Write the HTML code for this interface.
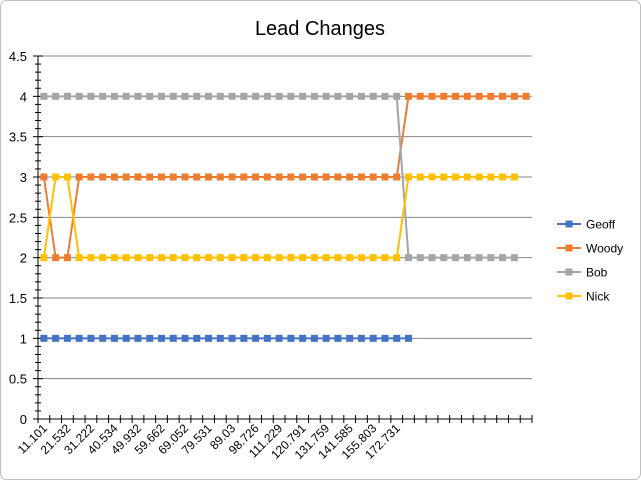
<!DOCTYPE html>
<html><head><meta charset="utf-8">
<style>
html,body{margin:0;padding:0;background:#fff;}
svg{display:block;font-family:"Liberation Sans",Calibri,sans-serif;}
</style></head>
<body>
<svg id="chart" width="641" height="480" xmlns="http://www.w3.org/2000/svg">
<rect x="0.5" y="0.5" width="640" height="479" rx="6" fill="#fff" stroke="#bfbfbf"/>
<text x="320" y="35" text-anchor="middle" font-size="20" fill="#000">Lead Changes</text>
<g id="grid"></g><g id="axes"></g><g id="series"></g><g id="legend"></g>
</svg>
<script>
const labels = ["11.101","21.532","31.222","40.534","49.932","59.662","69.052","79.531","89.03","98.726","111.229","120.791","131.759","141.585","155.803","172.731"];
const seriesNames = ["Geoff","Woody","Bob","Nick"];
const seriesColors = ["#4472c4","#ed7d31","#a5a5a5","#ffc000"];
const geoff = [1,1,1,1,1,1,1,1,1,1,1,1,1,1,1,1,1,1,1,1,1,1,1,1,1,1,1,1,1,1,1,1];
const woody = [3,2,2,3,3,3,3,3,3,3,3,3,3,3,3,3,3,3,3,3,3,3,3,3,3,3,3,3,3,3,3,4,4,4,4,4,4,4,4,4,4,4];
const bob = [4,4,4,4,4,4,4,4,4,4,4,4,4,4,4,4,4,4,4,4,4,4,4,4,4,4,4,4,4,4,4,2,2,2,2,2,2,2,2,2,2];
const nick = [2,3,3,2,2,2,2,2,2,2,2,2,2,2,2,2,2,2,2,2,2,2,2,2,2,2,2,2,2,2,2,3,3,3,3,3,3,3,3,3,3];
const yTicks = [0,0.5,1,1.5,2,2.5,3,3.5,4,4.5];
const nCats = 42;

const NS="http://www.w3.org/2000/svg";
const X0=38, X1=532, Y0=419, Y1=56, YMAX=4.5;
const bw=(X1-X0)/nCats;
const xs=i=>X0+bw*(i+0.5);
const ys=v=>Y0-(v/YMAX)*(Y0-Y1);
function mk(tag,attrs,parent){const e=document.createElementNS(NS,tag);for(const k in attrs)e.setAttribute(k,attrs[k]);parent.appendChild(e);return e;}
const grid=document.getElementById('grid'),axes=document.getElementById('axes'),ser=document.getElementById('series'),leg=document.getElementById('legend');

yTicks.forEach(v=>{
  if(v>0){const l=mk('line',{x1:X0,x2:X1,y1:ys(v),y2:ys(v),stroke:'#868686','stroke-width':1},grid);
  
  }
  const t=mk('text',{x:27,y:ys(v)+5,'text-anchor':'end','font-size':13,fill:'#000'},axes);
  t.textContent=v;
  
  
});
for(let k=0;k<=45;k++){const y=ys(k*0.1);const w=k%5===0?5:3;
  const l=mk('line',{x1:X0-w,x2:X0+w,y1:y,y2:y,stroke:'#000','stroke-width':1},axes);
  
  }
const ya=mk('line',{x1:X0,x2:X0,y1:Y1,y2:Y0,stroke:'#000','stroke-width':1},axes);


const xa=mk('line',{x1:X0,x2:X1,y1:Y0,y2:Y0,stroke:'#000','stroke-width':1},axes);


for(let i=0;i<=nCats;i++){const x=X0+bw*i;
  const l=mk('line',{x1:x,x2:x,y1:Y0-4,y2:Y0+4,stroke:'#000','stroke-width':1},axes);
  
  }
labels.forEach((s,j)=>{const x=xs(j*2)+4,y=Y0+10;
  const t=mk('text',{x:x,y:y,'text-anchor':'end','font-size':12,fill:'#000',transform:`rotate(-45 ${x} ${y})`},axes);
  t.textContent=s;
  
  });

[geoff,woody,bob,nick].forEach((d,si)=>{
  const c=seriesColors[si];
  const g=mk('g',{},ser);
  
  
  const p=mk('polyline',{points:d.map((v,i)=>xs(i)+','+ys(v)).join(' '),fill:'none',stroke:c,'stroke-width':2},g);
  
  
  d.forEach((v,i)=>{const r=mk('rect',{x:xs(i)-3.5,y:ys(v)-3.5,width:7,height:7,fill:c},g);
    
    });
});

seriesNames.forEach((n,i)=>{const y=224+i*24;
  const g=mk('g',{},leg);
  
  
  mk('line',{x1:557,x2:581,y1:y,y2:y,stroke:seriesColors[i],'stroke-width':2},g);
  mk('rect',{x:565.5,y:y-3.5,width:7,height:7,fill:seriesColors[i]},g);
  const t=mk('text',{x:586,y:y+4.5,'font-size':12,fill:'#000'},g);
  t.textContent=n;
});
</script>
</body></html>
